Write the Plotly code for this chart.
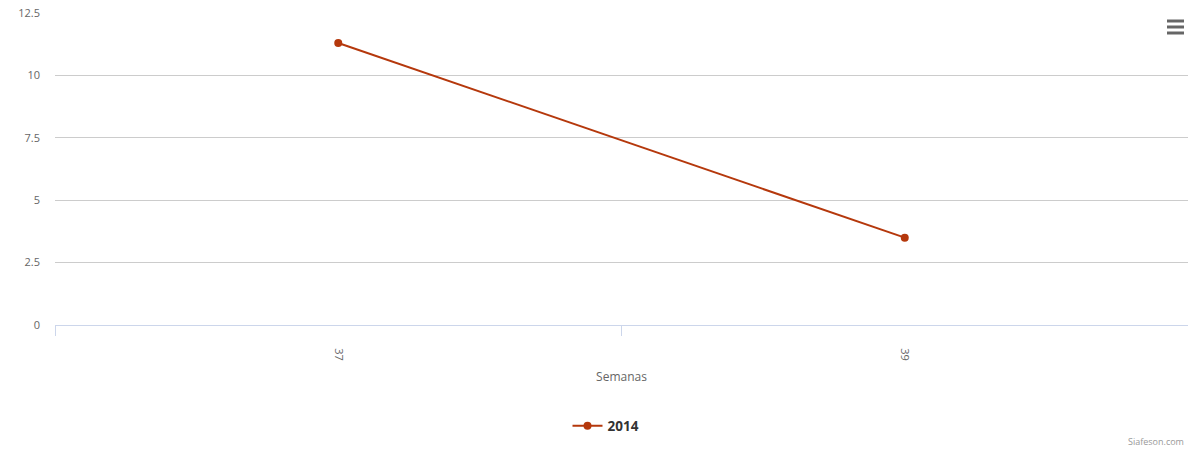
import plotly.graph_objects as go

categories = ["37", "39"]
series_name = "2014"
values = [11.3, 3.5]
y_ticks = [0, 2.5, 5, 7.5, 10, 12.5]
y_tick_labels = ["0", "2.5", "5", "7.5", "10", "12.5"]

LINE_COLOR = "#b5380c"
FONT = "Open Sans, DejaVu Sans, sans-serif"

fig = go.Figure()
fig.add_trace(go.Scatter(
    x=categories, y=values, name=series_name, mode="lines+markers",
    line=dict(color=LINE_COLOR, width=2),
    marker=dict(color=LINE_COLOR, size=8, symbol="circle"),
))

PH = 312  # plot height in px
PW = 1133
fig.update_layout(
    width=1188, height=450,
    margin=dict(l=55, r=0, t=13, b=125, autoexpand=False),
    paper_bgcolor="white", plot_bgcolor="white",
    font=dict(family=FONT, size=11, color="#666666"),
    showlegend=True,
    legend=dict(orientation="h", x=(606 - 55) / PW, xanchor="center", y=(325 - 426) / PH, yanchor="middle",
                font=dict(size=13.5, color="#333333", family=FONT, weight="bold"),
                itemwidth=30),
    xaxis=dict(
        type="category", range=[-0.5, 1.5], automargin=False,
        showgrid=False, showline=True, linecolor="#ccd6eb", linewidth=1,
        ticks="outside", tickson="boundaries", ticklen=10, tickcolor="#ccd6eb",
        tickangle=90, ticklabelstandoff=20, tickfont=dict(size=11, color="#666666"),
        title=dict(text="Semanas", font=dict(size=12, color="#666666"), standoff=12),
        zeroline=False,
    ),
    yaxis=dict(
        range=[0, 12.5], tickvals=y_ticks, ticktext=y_tick_labels, automargin=False,
        showgrid=True, gridcolor="#cccccc", gridwidth=1,
        zeroline=False, showline=False, ticks="",
        ticklabelstandoff=14, tickfont=dict(size=11, color="#666666"),
    ),
    annotations=[dict(text="Siafeson.com", xref="paper", yref="paper",
                      x=(1186 - 55) / PW, y=(325 - 441) / PH, xanchor="right", yanchor="middle",
                      showarrow=False, font=dict(size=9, color="#999999"))],
)

# export menu icon (three bars)
for yy in [21, 27, 33]:
    fig.add_shape(type="line", xref="paper", yref="paper",
                  x0=(1167 - 55) / PW, x1=(1184 - 55) / PW,
                  y0=(325 - yy) / PH, y1=(325 - yy) / PH,
                  line=dict(color="#666666", width=3))

fig.write_html("out.html", config={"displayModeBar": False},
               post_script="document.body.style.margin='0';document.body.style.overflow='hidden';")
